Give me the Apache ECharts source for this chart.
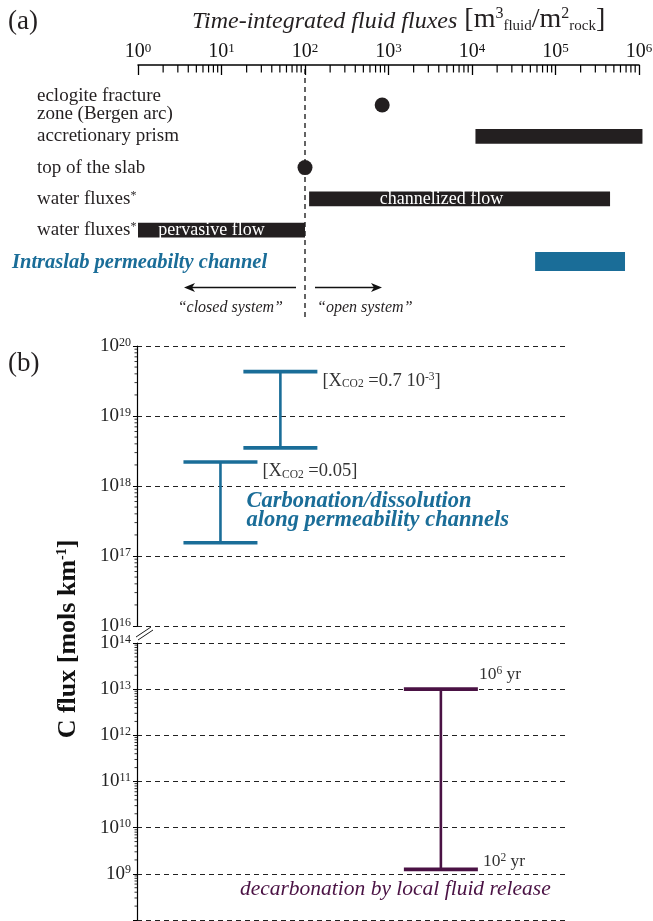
<!DOCTYPE html>
<html><head><meta charset="utf-8">
<script src="https://cdn.jsdelivr.net/npm/echarts@6/dist/echarts.min.js"></script>
<style>html,body{margin:0;padding:0;background:#fff}#c{width:653px;height:921px}</style>
</head><body><div id="c"></div>
<script>
// ---------- Panel (a) data ----------
const rowKeys   = ['eclogite', 'prism', 'slab', 'channelized', 'pervasive', 'intraslab'];
const rowLabels = ['eclogite fracture\nzone (Bergen arc)', 'accretionary prism', 'top of the slab',
                   'water fluxes{sup|*}', 'water fluxes{sup|*}', ''];
const intraslabLabel = 'Intraslab permeabilty channel';
const pointRows   = ['eclogite', 'slab'];
const pointValues = [840, 100];
const barRows  = ['prism', 'channelized', 'pervasive', 'intraslab'];
const barLow   = [1.1e4, 112, 1, 5.7e4];
const barHigh  = [1.1e6, 4.5e5, 100, 6.8e5];
const barText  = ['', 'channelized flow', 'pervasive flow', ''];
const fluxMin = 1, fluxMax = 1e6;
const systemThreshold = 100;
// ---------- Panel (b) data ----------
const errCases  = ['X_CO2 = 0.7e-3', 'X_CO2 = 0.05', 'decarbonation'];
const errColumn = [3.35, 1.95, 7.1];
const errLow    = [3.5e18, 1.55e17, 1.25e9];
const errHigh   = [4.3e19, 2.2e18, 1e13];
const upperRange = [1e16, 1e20];
const lowerRange = [1e8, 1e14];
const minorFactors = [2, 3, 4, 5, 6, 7, 8, 9];

const SERIF = '"Liberation Serif", "DejaVu Serif", serif';
const BLACK = '#231f20', BLUE = '#1a6d98', PURPLE = '#4a1244';
const AX_OFFSET = 40;

function minorValues(lo, hi) {
  const out = [];
  for (let e = lo; e < hi; e++) for (const f of minorFactors) out.push(f * Math.pow(10, e));
  return out;
}
const expOf = v => Math.round(Math.log10(v));

const chart = echarts.init(document.getElementById('c'));

const decadeRichA = {
  b: { fontSize: 20, fontFamily: SERIF, color: '#111' },
  s: { fontSize: 13, fontFamily: SERIF, color: '#111', verticalAlign: 'top', padding: [0, 0, 6, 0] }
};
const decadeRichB = {
  b: { fontSize: 19, fontFamily: SERIF, color: '#222' },
  s: { fontSize: 12, fontFamily: SERIF, color: '#222', verticalAlign: 'top', padding: [0, 0, 6, 0] }
};

const option = {
  animation: false,
  backgroundColor: '#fff',
  grid: [
    { left: 138, right: 14, top: 105, height: 156.5, outerBoundsMode: 'none', containLabel: false },
    { left: 137, right: 88, top: 346, height: 280, outerBoundsMode: 'none', containLabel: false },
    { left: 137, right: 88, top: 643, height: 277, outerBoundsMode: 'none', containLabel: false }
  ],
  xAxis: [
    { type: 'log', gridIndex: 0, position: 'top', offset: AX_OFFSET, min: fluxMin, max: fluxMax, splitNumber: 6,
      axisLine: { show: true, lineStyle: { color: '#000', width: 1.5 } },
      axisTick: { show: true, inside: true, length: 10, lineStyle: { color: '#000', width: 1.3 } },
      axisLabel: { margin: 3, formatter: v => '{b|10}{s|' + expOf(v) + '}', rich: decadeRichA },
      splitLine: { show: false } },
    { type: 'value', gridIndex: 1, min: 0, max: 10, show: false },
    { type: 'value', gridIndex: 2, min: 0, max: 10, show: false }
  ],
  yAxis: [
    { type: 'category', gridIndex: 0, data: rowKeys, inverse: true, boundaryGap: false,
      axisLine: { show: false }, axisTick: { show: false }, splitLine: { show: false },
      axisLabel: { align: 'left', margin: 101, fontSize: 19, lineHeight: 18, fontFamily: SERIF, color: '#231f20',
        formatter: (v, i) => rowLabels[i],
        rich: { sup: { fontSize: 12, fontFamily: SERIF, color: '#231f20', verticalAlign: 'top', padding: [0, 0, 6, 0] } } } },
    { type: 'log', gridIndex: 1, min: upperRange[0], max: upperRange[1], splitNumber: 4,
      axisLine: { show: true, lineStyle: { color: '#000', width: 1.2 } },
      axisTick: { show: true, length: 4, lineStyle: { color: '#000' } },
      axisLabel: { margin: 6, formatter: v => '{b|10}{s|' + expOf(v) + '}', rich: decadeRichB },
      splitLine: { show: true, lineStyle: { color: '#222', width: 1, type: [5, 4] } } },
    { type: 'log', gridIndex: 2, min: lowerRange[0], max: lowerRange[1], splitNumber: 6,
      axisLine: { show: true, lineStyle: { color: '#000', width: 1.2 } },
      axisTick: { show: true, length: 4, lineStyle: { color: '#000' } },
      axisLabel: { margin: 6, formatter: v => expOf(v) === 8 ? '' : '{b|10}{s|' + expOf(v) + '}', rich: decadeRichB },
      splitLine: { show: true, lineStyle: { color: '#222', width: 1, type: [5, 4] } } }
  ],
  series: [
    // minor ticks of the flux axis
    { type: 'custom', xAxisIndex: 0, yAxisIndex: 0, clip: false, silent: true,
      data: minorValues(0, 6).map(v => [v, 0]),
      renderItem(params, api) {
        const p = api.coord([api.value(0), 0]);
        const y0 = params.coordSys.y - AX_OFFSET;
        return { type: 'line', shape: { x1: p[0], y1: y0, x2: p[0], y2: y0 + 7.5 }, style: { stroke: '#000', lineWidth: 1.2 } };
      } },
    // range bars
    { type: 'custom', xAxisIndex: 0, yAxisIndex: 0, clip: false,
      data: barRows.map((r, i) => [rowKeys.indexOf(r), barLow[i], barHigh[i], i]),
      encode: { x: [1, 2], y: 0 },
      renderItem(params, api) {
        const cat = api.value(0), i = api.value(3);
        const p0 = api.coord([api.value(1), cat]);
        const p1 = api.coord([api.value(2), cat]);
        const band = Math.abs(api.coord([api.value(1), cat === 0 ? 1 : cat - 1])[1] - p0[1]);
        const isBlue = barRows[i] === 'intraslab';
        const h = band * (isBlue ? 0.6 : 0.47);
        const children = [{ type: 'rect', shape: { x: p0[0], y: p0[1] - h / 2, width: p1[0] - p0[0], height: h },
          style: { fill: isBlue ? BLUE : BLACK } }];
        if (barText[i]) {
          children.push({ type: 'text', style: { text: barText[i], x: p0[0] + (p1[0] - p0[0]) * 0.44, y: p0[1] + 0.5,
            align: 'center', verticalAlign: 'middle', fill: '#fff', fontSize: 18, fontFamily: SERIF } });
        }
        return { type: 'group', children };
      } },
    // point estimates
    { type: 'scatter', xAxisIndex: 0, yAxisIndex: 0, symbolSize: 15,
      itemStyle: { color: BLACK, opacity: 1 },
      data: pointRows.map((r, i) => [pointValues[i], rowKeys.indexOf(r)]) },
    // minor ticks panel b
    ...[[1, upperRange], [2, lowerRange]].map(([gi, rg]) => ({
      type: 'custom', xAxisIndex: gi, yAxisIndex: gi, clip: false, silent: true,
      data: minorValues(expOf(rg[0]), expOf(rg[1])).map(v => [0, v]),
      renderItem(params, api) {
        const p = api.coord([0, api.value(1)]);
        const x0 = params.coordSys.x;
        return { type: 'line', shape: { x1: x0 - 2.5, y1: p[1], x2: x0, y2: p[1] }, style: { stroke: '#000', lineWidth: 0.8 } };
      } })),
    // error bars panel b
    ...[[1, [0, 1], BLUE], [2, [2], PURPLE]].map(([gi, idx, col]) => ({
      type: 'custom', xAxisIndex: gi, yAxisIndex: gi, clip: false,
      data: idx.map(i => [errColumn[i], errLow[i], errHigh[i]]),
      encode: { x: 0, y: [1, 2] },
      renderItem(params, api) {
        const x = api.value(0);
        const lo = api.coord([x, api.value(1)]);
        const hi = api.coord([x, api.value(2)]);
        const hw = 37;
        return { type: 'group', children: [
          { type: 'line', shape: { x1: lo[0], y1: lo[1], x2: hi[0], y2: hi[1] }, style: { stroke: col, lineWidth: 2.6 } },
          { type: 'line', shape: { x1: hi[0] - hw, y1: hi[1], x2: hi[0] + hw, y2: hi[1] }, style: { stroke: col, lineWidth: 3.6 } },
          { type: 'line', shape: { x1: lo[0] - hw, y1: lo[1], x2: lo[0] + hw, y2: lo[1] }, style: { stroke: col, lineWidth: 3.6 } }
        ] };
      } }))
  ]
};
chart.setOption(option);

// ---------- annotations positioned through the axes ----------
const A = { xAxisIndex: 0, yAxisIndex: 0 };
const xThr = chart.convertToPixel(A, [systemThreshold, 0])[0];
const yLast = chart.convertToPixel(A, [systemThreshold, rowKeys.length - 1])[1];
const axisY = chart.convertToPixel(A, [systemThreshold, 0])[1] - AX_OFFSET;
const e1 = chart.convertToPixel({ xAxisIndex: 1, yAxisIndex: 1 }, [errColumn[0], errHigh[0]]);
const e2 = chart.convertToPixel({ xAxisIndex: 1, yAxisIndex: 1 }, [errColumn[1], errHigh[1]]);
const e3hi = chart.convertToPixel({ xAxisIndex: 2, yAxisIndex: 2 }, [errColumn[2], errHigh[2]]);
const e3lo = chart.convertToPixel({ xAxisIndex: 2, yAxisIndex: 2 }, [errColumn[2], errLow[2]]);
const upperBottom = chart.convertToPixel({ xAxisIndex: 1, yAxisIndex: 1 }, [0, upperRange[0]]);
const lowerTop = chart.convertToPixel({ xAxisIndex: 2, yAxisIndex: 2 }, [0, lowerRange[1]]);

const txt = (x, y, text, extra, rich, el) => Object.assign({ type: 'text', x, y, silent: true,
  style: Object.assign({ text, fontFamily: SERIF, fill: '#231f20', fontSize: 17, align: 'left', verticalAlign: 'middle', rich }, extra) }, el || {});
const subRich = { sub: { fontSize: 11.5, fontFamily: SERIF, fill: '#333', verticalAlign: 'bottom', padding: [6, 0, 0, 0] },
                  sup: { fontSize: 11.5, fontFamily: SERIF, fill: '#333', verticalAlign: 'top', padding: [0, 0, 6, 0] } };
const arrowY = yLast + 26;
const arrow = (x1, x2) => {
  const dir = Math.sign(x2 - x1);
  return [
    { type: 'line', silent: true, shape: { x1, y1: arrowY, x2: x2 - dir * 6, y2: arrowY }, style: { stroke: '#111', lineWidth: 1.6 } },
    { type: 'polygon', silent: true, shape: { points: [[x2, arrowY], [x2 - dir * 11, arrowY - 4.5], [x2 - dir * 8, arrowY], [x2 - dir * 11, arrowY + 4.5]] }, style: { fill: '#111' } }
  ];
};

chart.setOption({ graphic: [
  txt(8, 22, '(a)', { fontSize: 27, fill: '#231f20' }),
  txt(8, 364, '(b)', { fontSize: 27, fill: '#231f20' }),
  txt(192, 20, '{it|Time-integrated fluid fluxes} [m{sp|3}{sb|fluid}/m{sp|2}{sb|rock}]', { fontSize: 28, fill: '#231f20' }, {
    it: { fontStyle: 'italic', fontSize: 24, fontFamily: SERIF, fill: '#231f20', padding: [4, 0, 0, 0] },
    sp: { fontSize: 16, fontFamily: SERIF, fill: '#231f20', verticalAlign: 'top', padding: [0, 0, 12, 0] },
    sb: { fontSize: 15, fontFamily: SERIF, fill: '#231f20', verticalAlign: 'bottom', padding: [12, 0, 0, 0] } }),
  { type: 'line', silent: true, shape: { x1: xThr, y1: axisY + 4, x2: xThr, y2: yLast + 58 }, style: { stroke: '#111', lineWidth: 1.3, lineDash: [5, 4] } },
  ...arrow(xThr - 9, xThr - 121),
  ...arrow(xThr + 10, xThr + 77),
  txt(xThr - 22, yLast + 46, '\u201cclosed system\u201d', { align: 'right', fontStyle: 'italic', fontSize: 16 }),
  txt(xThr + 12, yLast + 46, '\u201copen system\u201d', { fontStyle: 'italic', fontSize: 16 }),
  txt(12, yLast + 1, intraslabLabel, { fontStyle: 'italic', fontWeight: 'bold', fontSize: 20.5, fill: BLUE }),
  // panel b annotations
  txt(e1[0] + 42, e1[1] + 9, '[X{sub|CO2} =0.7 10{sup|-3}]', { fontSize: 18.5, fill: '#333' }, subRich),
  txt(e2[0] + 42, e2[1] + 9, '[X{sub|CO2} =0.05]', { fontSize: 18.5, fill: '#333' }, subRich),
  txt(e2[0] + 26, e2[1] + 49, 'Carbonation/dissolution\nalong permeability channels', { fontSize: 22.5, lineHeight: 19, fontStyle: 'italic', fontWeight: 'bold', fill: BLUE }),
  txt(e3hi[0] + 38, e3hi[1] - 15, '10{sup|6} yr', { fontSize: 17.5, fill: '#333' }, subRich),
  txt(e3lo[0] + 42, e3lo[1] - 8, '10{sup|2} yr', { fontSize: 17.5, fill: '#333' }, subRich),
  txt(e3lo[0] - 201, e3lo[1] + 20, 'decarbonation by local fluid release', { fontSize: 21.5, fontStyle: 'italic', fill: PURPLE }),
  // axis break marks
  { type: 'line', silent: true, shape: { x1: upperBottom[0] - 1, y1: lowerTop[1] - 6, x2: upperBottom[0] + 14, y2: lowerTop[1] - 16 }, style: { stroke: '#000', lineWidth: 0.9 } },
  { type: 'line', silent: true, shape: { x1: upperBottom[0] + 1, y1: lowerTop[1] - 3, x2: upperBottom[0] + 16, y2: lowerTop[1] - 13 }, style: { stroke: '#000', lineWidth: 0.9 } },
  // y axis title
  txt(68, 639, 'C flux [mols km{sp|-1}]', { fontSize: 26, fontWeight: 'bold', fill: '#111', align: 'center' },
      { sp: { fontSize: 14, fontWeight: 'bold', fontFamily: SERIF, fill: '#111', verticalAlign: 'top', padding: [0, 0, 10, 0] } },
      { rotation: Math.PI / 2 })
] });
</script>
</body></html>
